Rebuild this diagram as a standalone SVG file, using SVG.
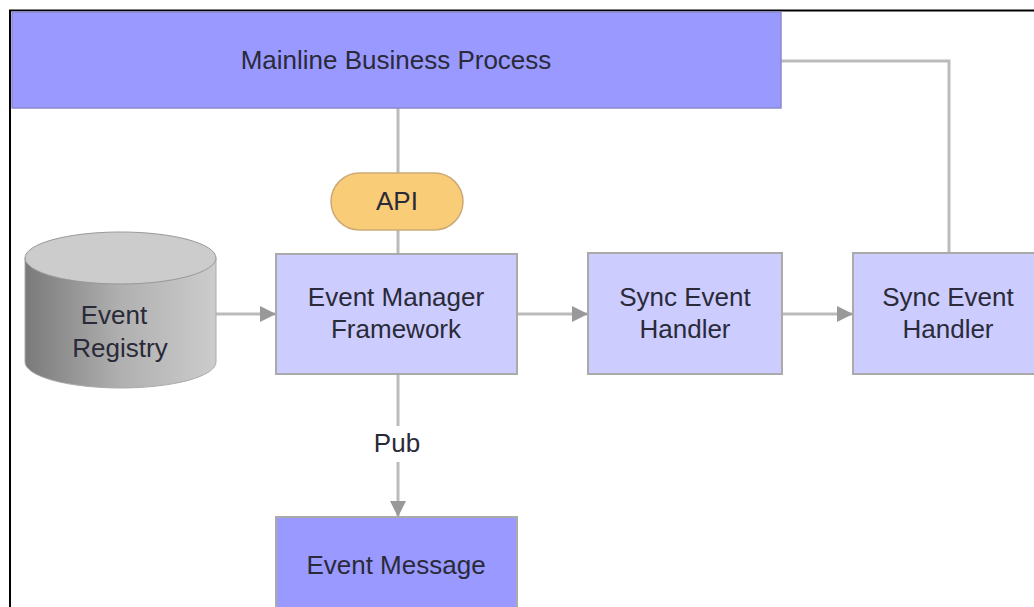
<svg xmlns="http://www.w3.org/2000/svg" width="1034" height="607" viewBox="0 0 1034 607">
<style>
text{font-family:"Liberation Sans",Arial,sans-serif;font-size:26px;fill:#2a2a38;text-anchor:middle}
.dark{fill:#9999ff;stroke:#8a8ad0;stroke-width:1.5}
.light{fill:#ccccff;stroke:#aaaaaa;stroke-width:2}
.con{fill:none;stroke:#bbbbbb;stroke-width:3}
</style>
<defs>
<marker id="ah" markerWidth="16" markerHeight="16" refX="15" refY="8" orient="auto" markerUnits="userSpaceOnUse" viewBox="0 0 16 16">
<path d="M0,0 L16,8 L0,16 z" fill="#999999"/>
</marker>
<linearGradient id="cyl" x1="0" x2="1" y1="0" y2="0">
<stop offset="0" stop-color="#7a7a7a"/>
<stop offset="0.5" stop-color="#b0b0b0"/>
<stop offset="1" stop-color="#cccccc"/>
</linearGradient>
</defs>
<rect x="0" y="0" width="1034" height="607" fill="#ffffff"/>
<path d="M10,607 V10.5 H1034" fill="none" stroke="#000000" stroke-width="2"/>
<g id="connectors">
<path class="con" d="M398,108 V173"/>
<path class="con" d="M398,230 V254"/>
<path class="con" d="M781,61 H949 V253"/>
<path class="con" d="M216,314 H275" marker-end="url(#ah)"/>
<path class="con" d="M517,314 H587" marker-end="url(#ah)"/>
<path class="con" d="M782,314 H852" marker-end="url(#ah)"/>
<path class="con" d="M398,374 V426"/>
<path class="con" d="M398,462 V516" marker-end="url(#ah)"/>
<text x="397" y="452">Pub</text>
</g>
<g id="mainline">
<rect class="dark" x="12" y="12" width="769" height="96"/>
<text x="396" y="69">Mainline Business Process</text>
</g>
<g id="api">
<rect x="331" y="173" width="132" height="57" rx="28.5" fill="#f9cc77" stroke="#ccaa77" stroke-width="1.5"/>
<text x="397" y="210">API</text>
</g>
<g id="registry">
<path d="M25,258 V362 A95.5,26 0 0 0 216,362 V258 Z" fill="url(#cyl)" stroke="#aaaaaa" stroke-width="1"/>
<ellipse cx="120.5" cy="258" rx="95.5" ry="26" fill="#cccccc" stroke="#999999" stroke-width="1"/>
<text x="114" y="324">Event</text>
<text x="120" y="357">Registry</text>
</g>
<g id="emf">
<rect class="light" x="276" y="254" width="241" height="120"/>
<text x="396" y="306">Event Manager</text>
<text x="396" y="338">Framework</text>
</g>
<g id="sync1">
<rect class="light" x="588" y="253" width="194" height="121"/>
<text x="685" y="306">Sync Event</text>
<text x="685" y="338">Handler</text>
</g>
<g id="sync2">
<rect class="light" x="853" y="253" width="190" height="121"/>
<text x="948" y="306">Sync Event</text>
<text x="948" y="338">Handler</text>
</g>
<g id="message">
<rect class="dark" x="276" y="517" width="241" height="100" style="stroke:#aaaaaa;stroke-width:2"/>
<text x="396" y="574">Event Message</text>
</g>
</svg>
